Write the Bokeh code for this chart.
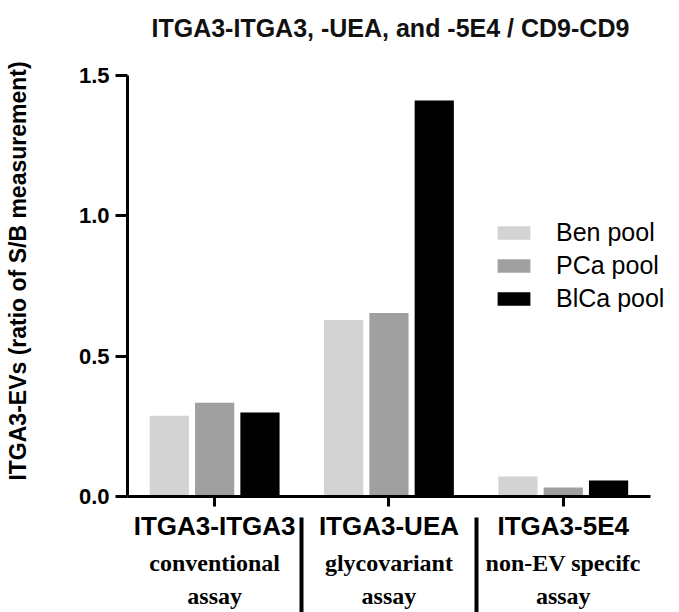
from bokeh.plotting import figure
from bokeh.models import (ColumnDataSource, Range1d, FixedTicker, LinearAxis,
                          Legend, LegendItem, NumeralTickFormatter)
from bokeh.transform import dodge
from bokeh.embed import file_html
from bokeh.resources import INLINE

# ---- data ----
categories = ["ITGA3-ITGA3", "ITGA3-UEA", "ITGA3-5E4"]
sub_labels = ["conventional\nassay", "glycovariant\nassay", "non-EV specifc\nassay"]
series = ["Ben pool", "PCa pool", "BlCa pool"]
ben = [0.288, 0.629, 0.071]
pca = [0.334, 0.654, 0.032]
blca = [0.299, 1.411, 0.057]
y_ticks = [0.0, 0.5, 1.0, 1.5]
separators = [0.5, 1.5]

colors = ["#d3d3d3", "#a0a0a0", "#000000"]
offsets = [-0.26, 0.0, 0.26]
keys = ["ben", "pca", "blca"]
positions = list(range(len(categories)))

source = ColumnDataSource(dict(pos=positions, ben=ben, pca=pca, blca=blca))

p = figure(width=679, height=612, x_range=Range1d(-0.5, 2.667), y_range=Range1d(0, 1.6066),
           output_backend="svg", toolbar_location=None, x_axis_location=None,
           min_border_left=127, min_border_right=0, min_border_top=45, min_border_bottom=115)

p.title.text = "ITGA3-ITGA3, -UEA, and -5E4 / CD9-CD9"
p.title.align = "left"
p.title.offset = 24
p.title.text_font = "Liberation Sans"
p.title.text_font_size = "25px"
p.title.text_font_style = "bold"
p.title.text_color = "#111111"
p.title.standoff = 8

p.outline_line_color = None
p.xgrid.grid_line_color = None
p.ygrid.grid_line_color = None

renderers = []
for k, off, col in zip(keys, offsets, colors):
    r = p.vbar(x=dodge("pos", off), top=k, width=0.225, source=source,
               fill_color=col, line_color=None)
    renderers.append(r)

# y axis
ya = p.yaxis[0]
ya.bounds = (0, 1.5)
ya.ticker = FixedTicker(ticks=y_ticks)
ya.formatter = NumeralTickFormatter(format="0.0")
ya.axis_line_width = 3
ya.major_tick_line_width = 3
ya.major_tick_out = 12
ya.major_tick_in = 0
ya.minor_tick_line_color = None
ya.major_label_text_font = "Liberation Sans"
ya.major_label_text_font_style = "bold"
ya.major_label_text_font_size = "22px"
ya.major_label_text_color = "black"
ya.major_label_standoff = 6
ya.axis_label = "ITGA3-EVs (ratio of S/B measurement)"
ya.axis_label_text_font = "Liberation Sans"
ya.axis_label_text_font_style = "bold"
ya.axis_label_text_font_size = "23px"
ya.axis_label_text_color = "black"
ya.axis_label_standoff = 45

# main x axis
xa = LinearAxis(bounds=(-0.5, 2.5), ticker=FixedTicker(ticks=positions),
                major_label_overrides={i: c for i, c in zip(positions, categories)})
xa.axis_line_width = 3
xa.major_tick_line_width = 3
xa.major_tick_out = 10
xa.major_tick_in = 0
xa.minor_tick_line_color = None
xa.major_label_text_font = "Liberation Sans"
xa.major_label_text_font_style = "bold"
xa.major_label_text_font_size = "26px"
xa.major_label_text_color = "black"
xa.major_label_standoff = 4
p.add_layout(xa, "below")

# second row of category labels (assay type); its minor ticks are the separators
xs = LinearAxis(ticker=FixedTicker(ticks=positions, minor_ticks=separators),
                major_label_overrides={i: s for i, s in zip(positions, sub_labels)})
xs.axis_line_color = None
xs.major_tick_line_color = None
xs.major_tick_out = 0
xs.major_tick_in = 0
xs.minor_tick_line_color = "black"
xs.minor_tick_line_width = 4
xs.minor_tick_in = 26
xs.minor_tick_out = 71
xs.major_label_standoff = -65
xs.major_label_text_font = "Liberation Serif"
xs.major_label_text_font_style = "bold"
xs.major_label_text_font_size = "24px"
xs.major_label_text_color = "black"
xs.major_label_text_line_height = 1.3
p.add_layout(xs, "below")

legend = Legend(items=[LegendItem(label=s, renderers=[r]) for s, r in zip(series, renderers)],
                location=(366, 183), padding=0, margin=0, border_line_color=None,
                background_fill_alpha=0, glyph_width=41, glyph_height=17,
                label_text_font="Liberation Sans", label_text_font_size="25px",
                label_text_color="black",
                label_standoff=22, spacing=4)
p.add_layout(legend)

open("out.html", "w").write(file_html(p, INLINE))
